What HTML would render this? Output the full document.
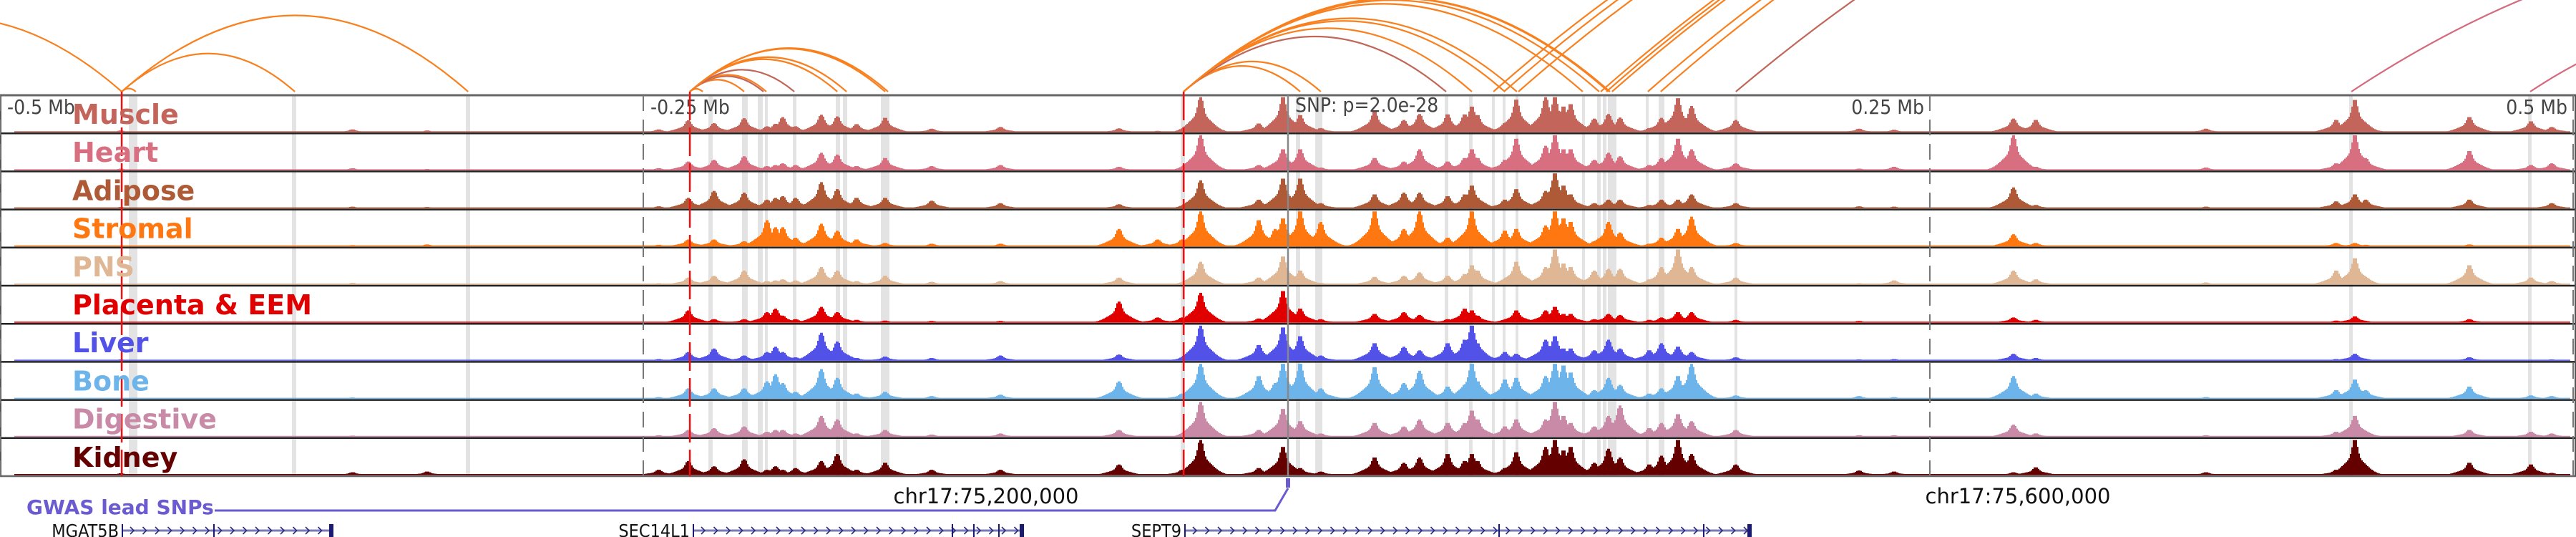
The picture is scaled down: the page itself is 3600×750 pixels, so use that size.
<!DOCTYPE html>
<html><head><meta charset="utf-8">
<style>
html,body{margin:0;padding:0;background:#fff;width:3600px;height:750px;overflow:hidden}
svg{display:block}
.tick{font-family:"DejaVu Sans Condensed","DejaVu Sans","Liberation Sans",sans-serif;font-size:28px;fill:#444}
.lab{font-family:"DejaVu Sans","Liberation Sans",sans-serif;font-weight:bold;font-size:38px}
.gene{font-family:"DejaVu Sans Condensed","DejaVu Sans","Liberation Sans",sans-serif;font-size:25px;fill:#111}
.chr{font-family:"DejaVu Sans","Liberation Sans",sans-serif;font-size:29px;fill:#111}
</style></head>
<body>
<svg id="chart" width="3600" height="750" viewBox="0 0 3600 750" xmlns="http://www.w3.org/2000/svg">
  <g id="bands"></g>
  <g id="arcs"></g>
  <g id="tracks"></g>
  <g id="overlay"></g>
  <g id="labels"></g>
  <g id="bottom">
    <text class="lab" x="37" y="718" style="font-size:28px" fill="#6b5bd0">GWAS lead SNPs</text>
    <polyline points="300,713 1782,713 1800,682" fill="none" stroke="#6b5bd0" stroke-width="3"/>
    <rect x="1797" y="668" width="6" height="13" fill="#6b5bd0"/>
    <text class="chr" x="1378" y="703" text-anchor="middle">chr17:75,200,000</text>
    <text class="chr" x="2820" y="703" text-anchor="middle">chr17:75,600,000</text>
  </g>
  <g id="genes"></g>
</svg>
<script>
// ---- data (genomic offsets in kb relative to lead SNP) ----
const loci = [-453,-363,-334,-244,-232.5,-222.5,-210.8,-201.9,-198.6,-195.8,-190.8,-180.8,-174.6,-167.1,-156,-137.9,-111.2,-65.1,-50.1,-40.6,-33.4,-10.8,-4.4,-1.4,5.3,13.3,34.2,45.6,51.7,62.6,69.2,72,74.2,84.8,89.3,100.7,104.3,107.6,110.4,119.6,125.1,129.6,141,145.7,152.1,157.4,174.6,222.5,236.1,282.5,291.2,357.3,407.9,415.2,419.4,459.7,483.6,491.7];
const muscle = [.5,.8,.5,.8,3.4,2.6,4,1.7,2.4,4.3,1.7,5,4.5,2.3,4.1,1,1.5,1.1,.4,.6,10,2.5,3,10,4.9,1.2,5.9,3.5,5.2,5.1,5.1,7.3,4.9,2.6,9.3,10,10,7.3,8,3.9,5.2,4.2,1.2,4.1,9.7,7.5,3.5,1,.7,3.9,3.5,1,3.5,9.2,2,4.3,3.1,1.5];
const heart = [.5,.6,.4,.6,2.5,3,4,1.2,1.5,2,1.5,5,4.5,1.2,3.5,1.2,1.5,1,.3,.5,10,1.5,2,6,6,.8,3.5,2.5,6,2.5,3.5,6,3.5,3,9,7,10,6,6,3,5,4,1.5,3.5,9,6,2,.5,1,10,1,.8,2,10,3.5,5.5,1.5,2];
const adipose = [.4,.5,.4,.6,3,5,4.5,2.5,3,3.5,3,7.5,5.5,3,3,2.2,1.5,1.2,.3,.5,8,2.5,3,8.5,8.5,1.5,4,4.5,4.5,3.5,4,6.5,3,2.5,5.5,5,10,6.5,4,1.5,2.5,2.5,1,2.5,2.5,4,1.5,.6,.5,6,1,.5,2,4,2.5,2.5,.3,1.5];
const stromal = [.3,.4,.6,.5,2,2,1.5,7.5,5.5,5.5,2.5,6.5,4.5,2,1,.8,.8,5,2,2,10,7.5,5,8,10,7,10,5,10,2.5,3,10,4,4.5,5,6,10,8,7,1.5,7,4,.8,2.5,5,8.5,1,.3,.3,3.5,1,.3,1,1,.5,.6,.3,.3];
const pns = [.3,.5,.3,.4,2,2.5,4,1,1.2,1.5,1.2,5,4,1,2.5,.8,1,2,.3,.4,6.5,2,2.5,8,4,.5,2.2,2.5,3.5,2.5,3,5.5,4,1.5,6.5,5,10,6,5,4,4.5,4.5,1.5,5,10,5,2,.4,1.2,4,1.5,.6,4,7.5,1.5,5.5,2,1];
const placenta = [.3,.3,.3,.3,3.5,1,1,3,4,2,1,4.5,3,.8,.6,.5,.5,6,1.5,1.5,8.5,1.2,1.2,9,4,1,2.5,3,2.2,1,4,3.5,2,.8,3.5,3.5,4.5,2.5,2.5,1,2.5,2.2,.8,1.5,3,3,.8,.5,.3,1.5,.8,.3,.6,1.8,.4,1,.3,.2];
const liver = [.4,.3,.3,.5,2.5,3.5,1.5,2.5,4,2.5,1,8,5.5,.8,1.2,.8,1.5,1.8,.3,1,10,4.5,2.5,9.5,7,1.5,5,4,3,5,6,10,5,2.5,2,6,7,3.5,3.5,3,6,3.5,3,5,4,2.5,1,.4,.5,2,.8,.3,.5,2,.5,1,.2,.4];
const bone = [.3,.4,.3,.5,3,3,3,5,7,4.5,2,8.5,6,1.5,2,.8,1.2,5,.3,1.5,10,6.5,4.5,10,10,3,9,4.5,8,3.5,4,10,5,5.5,6,6.5,10,9.5,7.5,2.5,6,4,1.5,3,6.5,10,1,.8,.5,6.5,1.5,.5,2.5,5.5,2.5,3.5,1,.8];
const digestive = [.3,.4,.3,.5,2,2.5,3,1.5,2,2,1,6,5,1,2,.7,1,2,.3,.5,10,2,2.5,8,4.5,1,4,3,5,4,4,7.5,5,3,5,5,10,6,4,3,6,9,2.5,4,6.5,4.5,2,.5,.5,3.5,1,.5,1.5,6,1.5,2,1.5,1];
const kidney = [.5,.8,1,1.5,4,2.5,4.5,1.5,2.5,1.5,2,4,6,1.5,3.5,1.5,1.5,3,.3,1.5,10,2,2.5,8,2,1,5,3.5,5,6,4,6,4,2,6.5,8,10,7,8,3.5,7.5,5,3,5.5,10,6,3,1.3,1,.8,2.2,.8,1.5,10,1,3.5,3,.6];
const trackNames = ["Muscle","Heart","Adipose","Stromal","PNS","Placenta & EEM","Liver","Bone","Digestive","Kidney"];
const trackSeries = [muscle,heart,adipose,stromal,pns,placenta,liver,bone,digestive,kidney];
const arcStart = [-583.4,-452.7,-452.7,-452.7,-231.9,-231.9,-231.9,-231.9,-231.9,-231.9,-231.9,-231.9,-231.9,-40,-40,-40,-40,-40,-40,-40,-40,-40,-40,80.4,84.5,90.1,122.1,124.3,126.5,140.4,145.4,174.6,413.8,483.3];
const arcEnd = [-452.7,-447.2,-385.4,-318.1,-226.9,-210.8,-203.3,-202.2,-191.3,-174.6,-171.0,-156.0,-154.9,5.3,13.3,62.0,72.0,84.8,89.5,115.1,121.5,125.1,125.7,612,626,640,696,700,710,724,737,779,779,668];
const arcKind = [0,0,0,0,0,0,1,0,1,0,0,0,0,0,0,1,0,0,0,0,0,0,0,0,0,0,0,0,0,0,0,1,2,2];
const tickKb = [-500,-250,250,500];
const tickText = ["-0.5 Mb","-0.25 Mb","0.25 Mb","0.5 Mb"];
const snpLabel = "SNP: p=2.0e-28";
const redLinesKb = [-452.7,-231.9,-40];

// ---- layout ----
const NS = "http://www.w3.org/2000/svg";
const X0 = 1798, PXKB = 3.596;
const xs = kb => X0 + kb * PXKB;
const colors = ["#c4655c","#d86f80","#ae5a36","#ff7710","#dfb794","#e00000","#5252e8","#6cb4ea","#c98aa8","#640000"];
const arcColors = ["#f8801f","#c0675a","#d46a7d"];
const arcK = [0.44,0.42,0.33];
const TOP = 133, TH = 53.2, MAXH = 49, ARCBASE = 128;
function mk(tag, attrs, parent){const e=document.createElementNS(NS,tag);for(const k in attrs)e.setAttribute(k,attrs[k]);parent.appendChild(e);return e;}

const bandsG = document.getElementById('bands');
const bandPx = [[180,192],[408,414],[651,657],[990,996],[1037,1045],[1059,1066],[1069,1073],[1108,1113],[1168,1174],[1178,1184],[1231,1243],[1650,1656],[1811,1817],[1838,1848],[2019,2024],[2053,2058],[2085,2089],[2100,2104],[2118,2122],[2211,2215],[2232,2237],[2240,2245],[2247,2259],[2300,2304],[2318,2326],[2424,2428],[3283,3288],[3533,3538]];
bandPx.forEach(b=>{
  const r = mk('rect',{x:b[0],y:TOP,width:b[1]-b[0],height:TH*10,fill:'#e3e3e3'},bandsG);
  
  
});

const arcsG = document.getElementById('arcs');
arcStart.forEach((s,i)=>{
  const a = xs(s), b = xs(arcEnd[i]);
  const hw = Math.abs(b-a)/2, mid=(a+b)/2;
  const H = 2*arcK[arcKind[i]]*hw;
  const p = mk('path',{d:`M${a},${ARCBASE} Q${mid},${ARCBASE-H} ${b},${ARCBASE}`,fill:'none',stroke:arcColors[arcKind[i]],'stroke-width':2.2},arcsG);
  
  
});

const tracksG = document.getElementById('tracks');
const BIN = 2;
trackSeries.forEach((ser,t)=>{
  const top = TOP + t*TH, base = top + TH - 1.5;
  let d = "";
  for(let x=20;x<3592;x+=BIN){
    const cx = x + BIN/2;
    let v = 0.3;
    for(let j=0;j<loci.length;j++){
      const dx = Math.abs(cx - xs(loci[j]));
      if(dx>80) continue;
      const h = ser[j];
      const s = Math.min(1, 0.6*Math.exp(-(dx/5)*(dx/5)) + 0.5*Math.exp(-(dx/22)*(dx/22)));
      v = Math.max(v, h*s);
    }
    const hp = Math.max(1.5, v/10*MAXH);
    d += `M${x},${base}h${BIN}v${-hp}h${-BIN}z`;
  }
  const g = mk('g',{},tracksG);
  
  
  const p = mk('path',{d:d,fill:colors[t]},g);
  
  
  const ln = mk('line',{x1:0,x2:3600,y1:top+TH,y2:top+TH,stroke:t===9?'#666':'#222','stroke-width':2.5},g);
  
  
});

const ov = document.getElementById('overlay');
const topLine = mk('line',{x1:0,x2:3600,y1:TOP,y2:TOP,stroke:'#666','stroke-width':3},ov);


const l1 = mk('line',{x1:1,x2:1,y1:TOP,y2:TOP+TH*10,stroke:'#555','stroke-width':2},ov);


const l2 = mk('line',{x1:3599,x2:3599,y1:TOP,y2:TOP+TH*10,stroke:'#555','stroke-width':2},ov);


tickKb.forEach((k,i)=>{
  const x = xs(k);
  const ln = mk('line',{x1:x,x2:x,y1:TOP,y2:TOP+TH*10,stroke:'#777','stroke-width':2,'stroke-dasharray':'22 12'},ov);
  
  
  const right = k>0;
  const tx = mk('text',{x:right?x-8:x+10,y:159,'text-anchor':right?'end':'start',class:'tick'},ov);
  tx.textContent = tickText[i];
  
  
});
const snpLine = mk('line',{x1:1800,x2:1800,y1:TOP,y2:TOP+TH*10,stroke:'#888','stroke-width':2.5},ov);


const snpT = mk('text',{x:1810,y:156,class:'tick'},ov);
snpT.textContent = snpLabel;


redLinesKb.forEach(k=>{
  const x = xs(k);
  const ln = mk('line',{x1:x,x2:x,y1:ARCBASE,y2:TOP+TH*10,stroke:'#ee1111','stroke-width':2.5,'stroke-dasharray':'40 10'},ov);
  
  
});

const labG = document.getElementById('labels');
trackNames.forEach((n,t)=>{
  const tx = mk('text',{x:101,y:TOP+t*TH+40,class:'lab',fill:colors[t]},labG);
  tx.textContent = n;
  
  
});

const genesG = document.getElementById('genes');
const genes = [["MGAT5B",170,465,[298]],["SEC14L1",968,1430,[1330,1360,1395]],["SEPT9",1655,2447,[2094,2380]]];
genes.forEach(g=>{
  const gg = mk('g',{},genesG);
  
  
  const y = 741;
  const t = mk('text',{x:g[1]-4,y:750,'text-anchor':'end',class:'gene'},gg);
  t.textContent = g[0];
  
  
  const ln = mk('line',{x1:g[1],x2:g[2],y1:y,y2:y,stroke:'#7a7ab8','stroke-width':3},gg);
  
  
  let d="";
  for(let x=g[1]+12;x<g[2]-8;x+=17.5){d+=`M${x},${y-5}l5,5l-5,5`;}
  const ch = mk('path',{d:d,fill:'none',stroke:'#2a2a80','stroke-width':1.6},gg);
  
  
  [g[1]].concat(g[3]).forEach(ex=>{
    const r = mk('rect',{x:ex,y:y-9,width:2,height:18,fill:'#1a1a70'},gg);
    
    
  });
  const e = mk('rect',{x:g[2]-5,y:y-9,width:6,height:18,fill:'#1a1a70'},gg);
  
  
});
</script>
</body></html>
